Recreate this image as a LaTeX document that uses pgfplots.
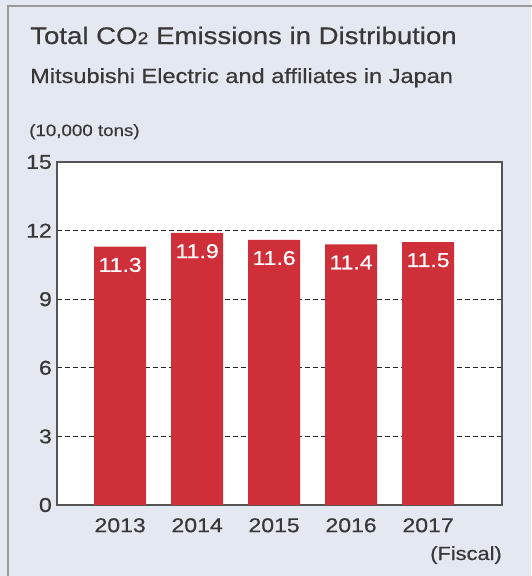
\documentclass[border=0pt]{standalone}
\usepackage{pgfplots}
\pgfplotsset{compat=1.18}
\usepackage{fontspec}
\setmainfont{Liberation Sans}[FakeStretch=1.15, FakeBold=0.6]
\definecolor{bg}{HTML}{E4E9F1}
\definecolor{barred}{HTML}{CF2F38}
\definecolor{txt}{HTML}{383838}
\definecolor{bordergray}{HTML}{9A9A9A}
\definecolor{axisgray}{HTML}{555555}
\begin{document}
\begin{tikzpicture}
\fill[bg] (0pt,0pt) rectangle (531pt,-576pt);
\draw[bordergray, line width=2pt] (8pt,-577pt) -- (8pt,-6pt) -- (532pt,-6pt);
\node[anchor=base west, inner sep=0, text=txt, font=\fontsize{24}{28}\selectfont] at (30pt,-44pt) {Total CO{\fontsize{17}{20}\selectfont 2} Emissions in Distribution};
\node[anchor=base west, inner sep=0, text=txt, font=\fontsize{20.5}{24}\selectfont] at (30pt,-83pt) {Mitsubishi Electric and affiliates in Japan};
\node[anchor=base west, inner sep=0, text=txt, font=\fontsize{16.3}{19}\selectfont] at (29pt,-136pt) {(10,000 tons)};
\node[anchor=base east, inner sep=0, text=txt, font=\fontsize{19}{22}\selectfont] at (502pt,-560pt) {(Fiscal)};
\begin{axis}[
  at={(57pt,-505pt)}, anchor=south west,
  scale only axis, width=445pt, height=343pt,
  xmin=-0.82, xmax=4.96, ymin=0, ymax=15,
  xtick={0,1,2,3,4}, xticklabels={2013,2014,2015,2016,2017},
  ytick={0,3,6,9,12,15},
  major tick length=0pt,
  axis background/.style={fill=white},
  axis line style={draw=axisgray, line width=1.8pt},
  ymajorgrids,
  grid style={black!85, line width=1pt, dash pattern=on 5pt off 3pt},
  /pgf/number format/assume math mode=true,
  ticklabel style={font=\fontsize{20}{24}\selectfont, text=txt, inner sep=0pt},
  yticklabel style={anchor=east, xshift=-5pt},
  xticklabel style={anchor=north, yshift=-13pt},
  ybar, bar width=52pt,
  nodes near coords,
  nodes near coords style={font=\fontsize{20}{24}\selectfont, text=white, anchor=north, inner sep=0pt, yshift=-11pt,
     /pgf/number format/.cd, fixed, fixed zerofill, precision=1, assume math mode=true},
]
\addplot[fill=barred, draw=none] coordinates {(0,11.3) (1,11.9) (2,11.6) (3,11.4) (4,11.5)};
\end{axis}
\pgfresetboundingbox
\useasboundingbox (0pt,0pt) rectangle (531pt,-576pt);
\end{tikzpicture}
\end{document}
